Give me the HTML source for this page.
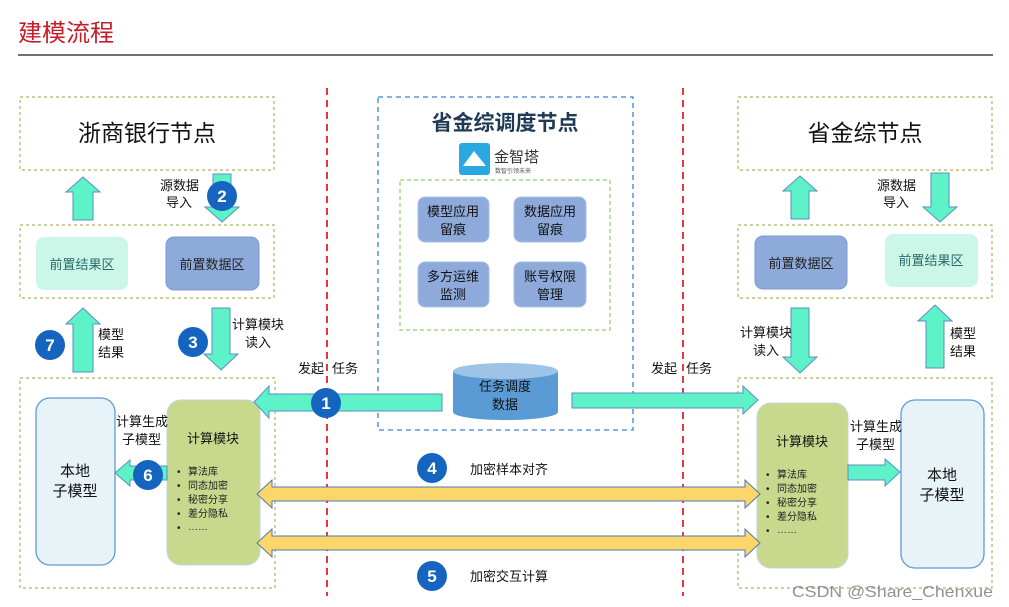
<!DOCTYPE html>
<html><head><meta charset="utf-8"><style>
html,body{margin:0;padding:0;background:#fff;width:1009px;height:607px;overflow:hidden}
svg{display:block}
text{font-family:"Liberation Sans","Noto Sans CJK SC",sans-serif}
</style></head><body>
<svg width="1009" height="607" viewBox="0 0 1009 607" xmlns="http://www.w3.org/2000/svg">
<text x="18" y="41" font-size="24" fill="#c41e28">建模流程</text>
<line x1="18" y1="55" x2="993" y2="55" stroke="#444" stroke-width="1.5"/>

<line x1="327" y1="88" x2="327" y2="596" stroke="#e8202a" stroke-width="1.8" stroke-dasharray="7,5"/>
<line x1="683" y1="88" x2="683" y2="596" stroke="#e8202a" stroke-width="1.8" stroke-dasharray="7,5"/>

<g fill="none" stroke="#a8b860" stroke-width="1.2" stroke-dasharray="3,3">
<rect x="20" y="97" width="254" height="73"/>
<rect x="20" y="225" width="254" height="73"/>
<rect x="20" y="378" width="255" height="210"/>
<rect x="738" y="97" width="254" height="73"/>
<rect x="738" y="225" width="254" height="73"/>
<rect x="738" y="378" width="254" height="210"/>
</g>
<rect x="378" y="97" width="255" height="333" fill="none" stroke="#3b82d6" stroke-width="1.3" stroke-dasharray="5,4"/>
<rect x="400" y="180" width="210" height="150" fill="none" stroke="#8fd06a" stroke-width="1.2" stroke-dasharray="4,3"/>

<text x="147" y="141" font-size="23" text-anchor="middle" fill="#111">浙商银行节点</text>
<text x="865" y="141" font-size="23" text-anchor="middle" fill="#111">省金综节点</text>

<rect x="36" y="237" width="92" height="53" rx="8" fill="#ccf7e8"/>
<text x="82" y="269" font-size="13" text-anchor="middle" fill="#2a6a6a">前置结果区</text>
<rect x="166" y="237" width="93" height="53" rx="8" fill="#8eaadb" stroke="#7b9ad0"/>
<text x="212" y="269" font-size="13" text-anchor="middle" fill="#222">前置数据区</text>
<rect x="755" y="236" width="92" height="53" rx="8" fill="#8eaadb" stroke="#7b9ad0"/>
<text x="801" y="268" font-size="13" text-anchor="middle" fill="#222">前置数据区</text>
<rect x="885" y="234" width="93" height="53" rx="8" fill="#ccf7e8"/>
<text x="931" y="265" font-size="13" text-anchor="middle" fill="#2a6a6a">前置结果区</text>

<rect x="36" y="398" width="79" height="167" rx="14" fill="#e8f3f7" stroke="#5b9bd5" stroke-width="1.3"/>
<text x="75" y="476" font-size="15" text-anchor="middle" fill="#111">本地</text>
<text x="75" y="496" font-size="15" text-anchor="middle" fill="#111">子模型</text>
<rect x="901" y="400" width="83" height="168" rx="14" fill="#e8f3f7" stroke="#5b9bd5" stroke-width="1.3"/>
<text x="942" y="480" font-size="15" text-anchor="middle" fill="#111">本地</text>
<text x="942" y="500" font-size="15" text-anchor="middle" fill="#111">子模型</text>

<g>
<rect x="167" y="400" width="93" height="165" rx="14" fill="#c8d98e" stroke="#c0d6dc"/>
<text x="213" y="443" font-size="13" text-anchor="middle" fill="#111">计算模块</text>
<g font-size="10" fill="#222">
<text x="177" y="475">•</text><text x="188" y="475">算法库</text>
<text x="177" y="489">•</text><text x="188" y="489">同态加密</text>
<text x="177" y="503">•</text><text x="188" y="503">秘密分享</text>
<text x="177" y="517">•</text><text x="188" y="517">差分隐私</text>
<text x="177" y="531">•</text><text x="188" y="530">……</text>
</g>
</g>
<g>
<rect x="757" y="403" width="91" height="165" rx="14" fill="#c8d98e" stroke="#c0d6dc"/>
<text x="802" y="446" font-size="13" text-anchor="middle" fill="#111">计算模块</text>
<g font-size="10" fill="#222">
<text x="766" y="478">•</text><text x="777" y="478">算法库</text>
<text x="766" y="492">•</text><text x="777" y="492">同态加密</text>
<text x="766" y="506">•</text><text x="777" y="506">秘密分享</text>
<text x="766" y="520">•</text><text x="777" y="520">差分隐私</text>
<text x="766" y="534">•</text><text x="777" y="533">……</text>
</g>
</g>

<text x="505" y="130" font-size="21" font-weight="bold" text-anchor="middle" fill="#1f3a55">省金综调度节点</text>
<rect x="459" y="143" width="31" height="32" rx="3" fill="#29a9e0"/>
<polygon points="463,166 474,151 486,166" fill="#fff"/>
<text x="494" y="162" font-size="15" fill="#333">金智塔</text>
<text x="495" y="173" font-size="6" fill="#555">数智引领未来</text>
<g fill="#8eaadb" stroke="#aac0e6">
<rect x="418" y="197" width="71" height="45" rx="7"/>
<rect x="514" y="197" width="72" height="45" rx="7"/>
<rect x="418" y="262" width="71" height="45" rx="7"/>
<rect x="514" y="262" width="72" height="45" rx="7"/>
</g>
<g font-size="13" text-anchor="middle" fill="#111">
<text x="453" y="216">模型应用</text><text x="453" y="234">留痕</text>
<text x="550" y="216">数据应用</text><text x="550" y="234">留痕</text>
<text x="453" y="281">多方运维</text><text x="453" y="299">监测</text>
<text x="550" y="281">账号权限</text><text x="550" y="299">管理</text>
</g>
<path d="M453,371 L453,412 A52,8 0 0 0 558,412 L558,371 Z" fill="#5b9bd5"/>
<ellipse cx="505.5" cy="371" rx="52.5" ry="8" fill="#9dc3e6"/>
<text x="505" y="391" font-size="13" text-anchor="middle" fill="#111">任务调度</text>
<text x="505" y="409" font-size="13" text-anchor="middle" fill="#111">数据</text>

<g fill="#5ef2c8" stroke="#5a8fbf" stroke-width="1">
<polygon points="83,177 100,192 93,192 93,220 73,220 73,192 66,192"/>
<polygon points="222,222 239,207 231,207 231,174 213,174 213,207 205,207"/>
<polygon points="800,176 817,191 809,191 809,219 791,219 791,191 783,191"/>
<polygon points="940,222 957,207 949,207 949,173 931,173 931,207 923,207"/>
<polygon points="83,308 100,324 93,324 93,372 73,372 73,324 66,324"/>
<polygon points="221,370 238,354 230,354 230,308 212,308 212,354 204,354"/>
<polygon points="800,373 817,357 809,357 809,308 791,308 791,357 783,357"/>
<polygon points="935,305 952,321 944,321 944,368 926,368 926,321 918,321"/>
<polygon points="254,402 269,386 269,394 442,394 442,411 269,411 269,418"/>
<polygon points="758,400 743,386 743,393 572,393 572,408 743,408 743,414"/>
<polygon points="115,473 130,460 130,466 167,466 167,480 130,480 130,486"/>
<polygon points="900,472 885,459 885,465 848,465 848,480 885,480 885,486"/>
</g>
<g fill="#fdd66a" stroke="#4a7ab0" stroke-width="1">
<polygon points="257,494 272,480 272,487 745,487 745,480 760,494 745,508 745,501 272,501 272,508"/>
<polygon points="257,543 272,529 272,536 745,536 745,529 760,543 745,557 745,550 272,550 272,557"/>
</g>

<g font-size="17" font-weight="bold" fill="#fff" text-anchor="middle">
<circle cx="222" cy="196" r="15" fill="#1565c0"/><text x="222" y="202">2</text>
<circle cx="50" cy="345" r="15" fill="#1565c0"/><text x="50" y="351">7</text>
<circle cx="193" cy="342" r="15" fill="#1565c0"/><text x="193" y="348">3</text>
<circle cx="326" cy="403" r="15" fill="#1565c0"/><text x="326" y="409">1</text>
<circle cx="148" cy="475" r="15" fill="#1565c0"/><text x="148" y="481">6</text>
<circle cx="432" cy="468" r="15" fill="#1565c0"/><text x="432" y="474">4</text>
<circle cx="432" cy="576" r="15" fill="#1565c0"/><text x="432" y="582">5</text>
</g>

<g font-size="13" fill="#111">
<text x="160" y="190">源数据</text><text x="166" y="207">导入</text>
<text x="877" y="190">源数据</text><text x="883" y="207">导入</text>
<text x="98" y="339">模型</text><text x="98" y="357">结果</text>
<text x="950" y="338">模型</text><text x="950" y="356">结果</text>
<text x="232" y="329">计算模块</text><text x="245" y="347">读入</text>
<text x="740" y="337">计算模块</text><text x="753" y="355">读入</text>
<text x="298" y="373">发起</text><text x="332" y="373">任务</text>
<text x="651" y="373">发起</text><text x="686" y="373">任务</text>
<text x="116" y="426">计算生成</text><text x="122" y="444">子模型</text>
<text x="850" y="431">计算生成</text><text x="856" y="449">子模型</text>
<text x="470" y="474">加密样本对齐</text>
<text x="470" y="581">加密交互计算</text>
</g>
<text x="792" y="597" font-size="16" fill="#777" opacity="0.8" textLength="201" lengthAdjust="spacingAndGlyphs">CSDN @Share_Chenxue</text>
</svg>
</body></html>
